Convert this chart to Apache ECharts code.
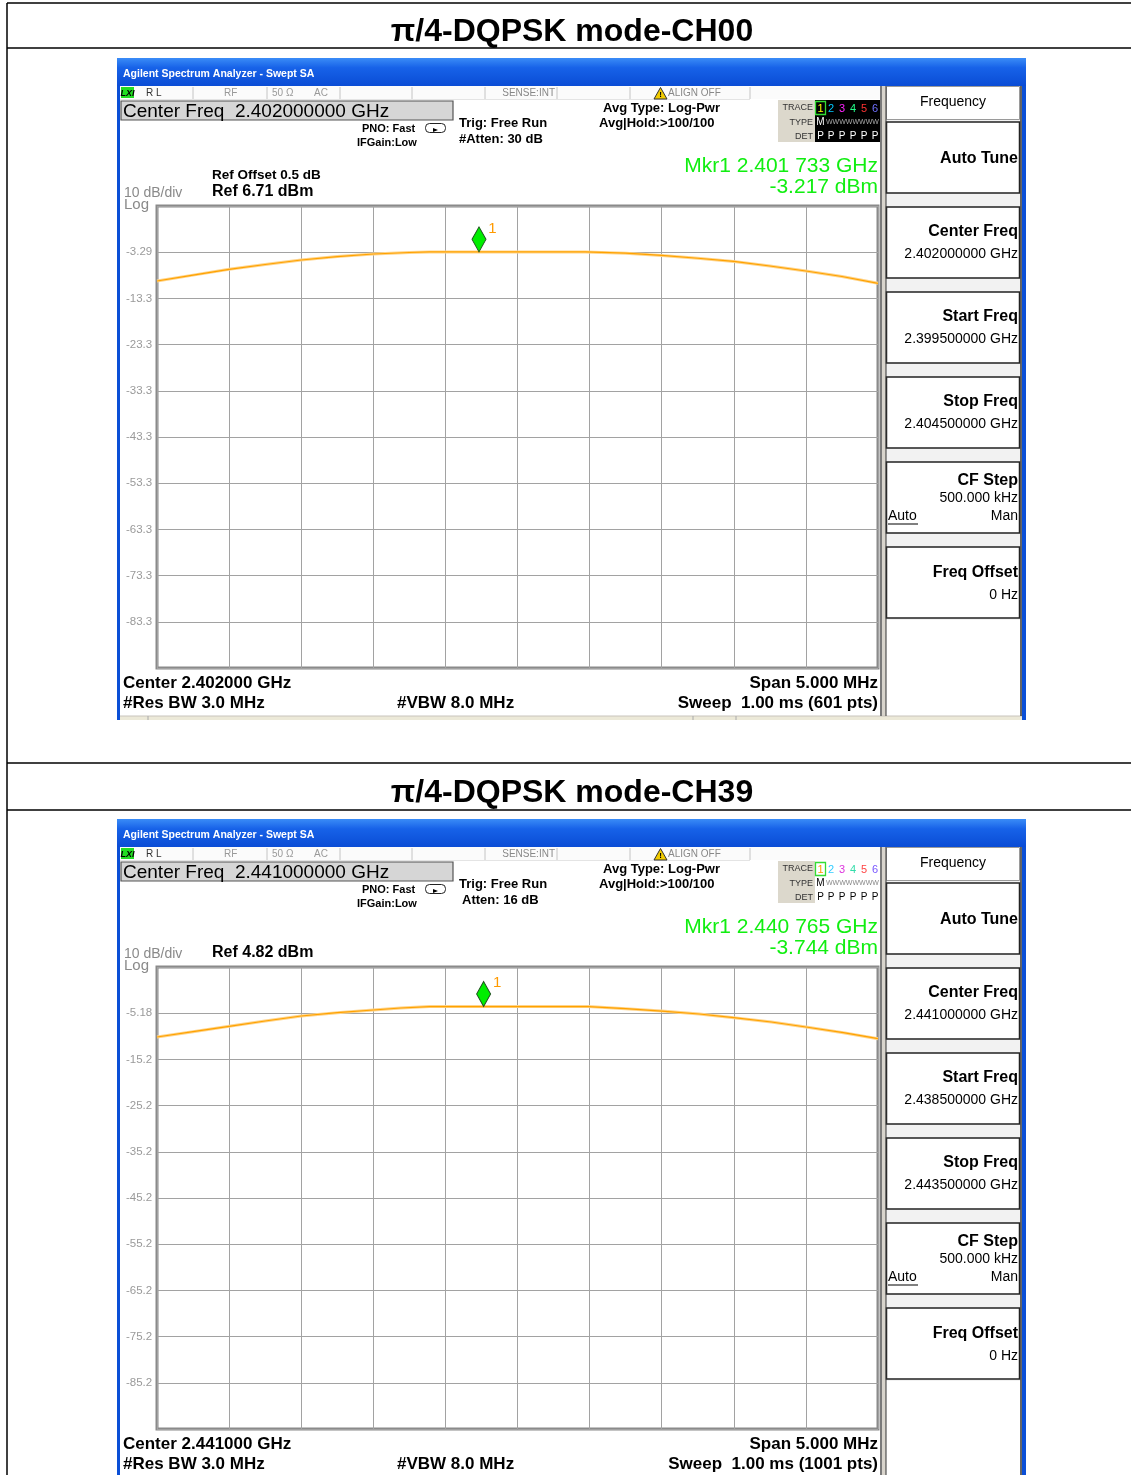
<!DOCTYPE html>
<html><head><meta charset="utf-8">
<script src="https://cdn.jsdelivr.net/npm/echarts@6/dist/echarts.min.js"></script>
<style>html,body{margin:0;padding:0;background:#fff;} #c{width:1131px;height:1475px;}</style>
</head><body><div id="c"></div>
<script>
// ---------------- data ----------------
const pageTitles = ['π/4-DQPSK mode-CH00', 'π/4-DQPSK mode-CH39'];
const centerFreqsGHz = [2.402, 2.441];
const refLevels = [6.71, 4.82];
const spanMHz = 5;
const ch00Freq = [2.39950, 2.39975, 2.40000, 2.40025, 2.40050, 2.40075, 2.40100, 2.40125, 2.40139, 2.40175, 2.40200, 2.40225, 2.40247, 2.40275, 2.40300, 2.40325, 2.40350, 2.40375, 2.40400, 2.40425, 2.40450];
const ch00Level = [-9.52, -8.25, -6.99, -5.95, -4.98, -4.24, -3.68, -3.35, -3.22, -3.22, -3.22, -3.22, -3.22, -3.51, -3.99, -4.60, -5.29, -6.28, -7.36, -8.55, -10.02];
const ch39Freq = [2.43850, 2.43875, 2.43900, 2.43925, 2.43950, 2.43975, 2.44000, 2.44019, 2.44039, 2.44077, 2.44110, 2.44149, 2.44150, 2.44175, 2.44200, 2.44226, 2.44250, 2.44276, 2.44300, 2.44326, 2.44350];
const ch39Level = [-10.33, -9.18, -8.02, -6.87, -5.79, -5.07, -4.49, -4.05, -3.74, -3.74, -3.74, -3.74, -3.84, -4.20, -4.71, -5.35, -6.15, -7.08, -8.17, -9.40, -10.70];
const ch00YLabels = ['-3.29', '-13.3', '-23.3', '-33.3', '-43.3', '-53.3', '-63.3', '-73.3', '-83.3'];
const ch39YLabels = ['-5.18', '-15.2', '-25.2', '-35.2', '-45.2', '-55.2', '-65.2', '-75.2', '-85.2'];
const markerFreqs = [2.401733, 2.440765];
const markerLevels = [-3.217, -3.744];
const markerTexts = [['Mkr1 2.401 733 GHz', '-3.217 dBm'], ['Mkr1 2.440 765 GHz', '-3.744 dBm']];
const centerTexts = ['Center Freq  2.402000000 GHz', 'Center Freq  2.441000000 GHz'];
const attenTexts = ['#Atten: 30 dB', 'Atten: 16 dB'];
const refTexts = ['Ref 6.71 dBm', 'Ref 4.82 dBm'];
const refOffsetTexts = ['Ref Offset 0.5 dB', ''];
const bottomCenter = ['Center 2.402000 GHz', 'Center 2.441000 GHz'];
const sweepTexts = ['Sweep  1.00 ms (601 pts)', 'Sweep  1.00 ms (1001 pts)'];
const softCenter = ['2.402000000 GHz', '2.441000000 GHz'];
const softStart = ['2.399500000 GHz', '2.438500000 GHz'];
const softStop = ['2.404500000 GHz', '2.443500000 GHz'];

// ---------------- helpers ----------------
const FONT = '"Liberation Sans", Arial, sans-serif';
function fnt(size, weight) { return (weight || 'normal') + ' ' + size + 'px ' + FONT; }
function T(x, y, text, font, fill, align) {
  return { type: 'text', x: x, y: y + 1.5, z: 100, silent: true,
    style: { text: text, font: font, fill: fill || '#000', align: align || 'left', verticalAlign: 'middle' } };
}
function R(x, y, w, h, fill, stroke, lw, r, z) {
  return { type: 'rect', z: (z === undefined ? -5 : z), silent: true,
    shape: { x: x, y: y, width: w, height: h, r: r || 0 },
    style: { fill: fill || 'none', stroke: stroke || 'none', lineWidth: lw || 0 } };
}
function Ln(x1, y1, x2, y2, stroke, lw, z) {
  return { type: 'line', z: (z === undefined ? -4 : z), silent: true,
    shape: { x1: x1, y1: y1, x2: x2, y2: y2 }, style: { stroke: stroke || '#000', lineWidth: lw || 1 } };
}
function Poly(pts, fill, stroke, z) {
  return { type: 'polygon', z: (z === undefined ? 50 : z), silent: true,
    shape: { points: pts }, style: { fill: fill, stroke: stroke || 'none', lineWidth: 1 } };
}

const G = [];
// page table
G.push(Ln(7, 3, 1131, 3, '#000', 1.5, 10));
G.push(Ln(7, 3, 7, 1475, '#000', 1.5, 10));
G.push(Ln(7, 48, 1131, 48, '#000', 1.5, 10));
G.push(Ln(7, 763, 1131, 763, '#000', 1.5, 10));
G.push(Ln(7, 810, 1131, 810, '#000', 1.5, 10));
G.push(T(572, 30.5, pageTitles[0], fnt(32, 'bold'), '#000', 'center'));
G.push(T(572, 791.5, pageTitles[1], fnt(32, 'bold'), '#000', 'center'));

function panel(i, oy) {
  const dark = i === 0;
  const Y = v => v + oy;
  const frameH = i === 0 ? 662 : 700;
  G.push(R(117, Y(58), 909, frameH, '#0b4fd6', null, 0, 0, -10));
  G.push(R(117, Y(58), 909, 28, { type: 'linear', x: 0, y: 0, x2: 0, y2: 1,
    colorStops: [{ offset: 0, color: '#3a8cf7' }, { offset: 0.35, color: '#1762e8' }, { offset: 1, color: '#0a4cd5' }] }, null, 0, 0, -9));
  G.push(T(123, Y(73), 'Agilent Spectrum Analyzer - Swept SA', fnt(10.5, 'bold'), '#fff'));
  G.push(R(120, Y(86), 902, 631, '#ffffff', null, 0, 0, -8));
  if (i === 0) {
    G.push(R(120, Y(716), 902, 4, '#ece9d8', null, 0, 0, -7));
    G.push(Ln(120, Y(716), 1022, Y(716), '#c8c4bc', 1));
    G.push(Ln(148, Y(716), 148, Y(720), '#aaa', 1));
    G.push(Ln(693, Y(716), 693, Y(720), '#aaa', 1));
    G.push(Ln(736, Y(716), 736, Y(720), '#aaa', 1));
  }
  // status row
  G.push(R(120, Y(86), 760, 13, '#fbfbfb', null, 0, 0, -7));
  [193, 267, 340, 412, 485, 557, 630, 750].forEach(x => G.push(Ln(x, Y(87), x, Y(99), '#c4c4c4', 1)));
  G.push(Ln(120, Y(99.5), 750, Y(99.5), '#e4e4e4', 1));
  G.push(R(121, Y(87), 13, 11, '#22dd22', null, 0, 0, -6));
  G.push(T(127.5, Y(92), 'LXI', 'italic bold 9px ' + FONT, '#000', 'center'));
  G.push(T(146, Y(91.5), 'R L', fnt(10), '#333'));
  G.push(T(224, Y(91.5), 'RF', fnt(10), '#999'));
  G.push(T(272, Y(91.5), '50 Ω', fnt(10), '#999'));
  G.push(T(314, Y(91.5), 'AC', fnt(10), '#999'));
  G.push(T(555, Y(91.5), 'SENSE:INT', fnt(10), '#888', 'right'));
  G.push(Poly([[654, Y(99)], [660.5, Y(87.5)], [667, Y(99)]], '#f2cc00', '#333'));
  G.push(T(660.5, Y(93.5), '!', fnt(8, 'bold'), '#000', 'center'));
  G.push(T(668, Y(91.5), 'ALIGN OFF', fnt(10), '#888'));
  // center freq box
  G.push(R(121, Y(101), 332, 19, '#d6d6d6', '#555', 1.2, 0, -6));
  G.push(T(123, Y(110), centerTexts[i], fnt(19), '#000'));
  G.push(T(362, Y(127), 'PNO: Fast', fnt(11, 'bold'), '#000'));
  G.push(R(425.5, Y(123.5), 20, 9, 'none', '#222', 1, 4, 50));
  G.push(Poly([[433, Y(128)], [438, Y(130)], [433, Y(132)]], '#000'));
  G.push(T(357, Y(141), 'IFGain:Low', fnt(11, 'bold'), '#000'));
  G.push(T(459, Y(122), 'Trig: Free Run', fnt(13, 'bold'), '#000'));
  G.push(T(i === 0 ? 459 : 462, Y(138), attenTexts[i], fnt(13, 'bold'), '#000'));
  G.push(T(603, Y(107), 'Avg Type: Log-Pwr', fnt(13, 'bold'), '#000'));
  G.push(T(599, Y(122), 'Avg|Hold:>100/100', fnt(13, 'bold'), '#000'));
  // trace box
  G.push(R(778, Y(100), 37, 42, '#dcd8cc', null, 0, 0, -6));
  G.push(T(813, Y(106), 'TRACE', fnt(9), '#333', 'right'));
  G.push(T(813, Y(121), 'TYPE', fnt(9), '#333', 'right'));
  G.push(T(813, Y(135), 'DET', fnt(9), '#333', 'right'));
  G.push(R(815, Y(100), 65, 42, dark ? '#000' : '#fff', null, 0, 0, -6));
  const cols = dark ? ['#ffff00', '#00c8ff', '#ff22ff', '#22ff88', '#ff3333', '#7070ff']
                    : ['#ff9900', '#33ccff', '#dd33dd', '#33ddaa', '#ff4444', '#7755ff'];
  const xs = [820.5, 831, 842, 853, 864, 875];
  G.push(R(815.5, Y(101.5), 10, 13, 'none', '#33dd33', 1.3, 0, 60));
  xs.forEach((x, k) => G.push(T(x, Y(107), String(k + 1), fnt(11), cols[k], 'center')));
  G.push(T(820.5, Y(121), 'M', fnt(10), dark ? '#fff' : '#000', 'center'));
  G.push(T(826, Y(121), 'WWWWWWWW', fnt(7), dark ? '#aaa' : '#888'));
  xs.forEach(x => G.push(T(x, Y(135), 'P', fnt(10), dark ? '#fff' : '#000', 'center')));
  // marker readout
  G.push(T(878, Y(165), markerTexts[i][0], fnt(21), '#11ee11', 'right'));
  G.push(T(878, Y(186), markerTexts[i][1], fnt(21), '#11ee11', 'right'));
  if (refOffsetTexts[i]) G.push(T(212, Y(173.5), refOffsetTexts[i], fnt(13.5, 'bold'), '#000'));
  G.push(T(212, Y(190.5), refTexts[i], fnt(16, 'bold'), '#000'));
  G.push(T(124, Y(191.5), '10 dB/div', fnt(14), '#8a8a8a'));
  G.push(T(124, Y(203.5), 'Log', fnt(15), '#8a8a8a'));
  // bottom annotations
  G.push(T(123, Y(681.5), bottomCenter[i], fnt(17, 'bold'), '#000'));
  G.push(T(123, Y(701.5), '#Res BW 3.0 MHz', fnt(17, 'bold'), '#000'));
  G.push(T(397, Y(701.5), '#VBW 8.0 MHz', fnt(17, 'bold'), '#000'));
  G.push(T(878, Y(681.5), 'Span 5.000 MHz', fnt(17, 'bold'), '#000', 'right'));
  G.push(T(878, Y(701.5), sweepTexts[i], fnt(17, 'bold'), '#000', 'right'));
  // separator & softkey panel
  G.push(Ln(881, Y(86), 881, Y(716), '#7a7a7a', 2));
  G.push(R(882, Y(86), 4, 630, '#d8d4cc', null, 0, 0, -6));
  G.push(R(886, Y(86), 135, 630, '#f2f2f2', null, 0, 0, -7));
  G.push(R(886.5, Y(86.5), 133, 33, '#fff', '#9a9a9a', 1, 0, -6));
  G.push(T(953, Y(101), 'Frequency', fnt(14), '#000', 'center'));
  [122, 207, 292, 377, 462, 547].forEach(t => G.push(R(886.5, Y(t), 133, 71, '#fff', '#222', 1.5, 0, -6)));
  G.push(R(886, Y(620), 135, 96, '#fff', null, 0, 0, -6));
  G.push(Ln(1021, Y(86), 1021, Y(716), '#333', 1.5));
  G.push(Ln(886, Y(86), 886, Y(716), '#333', 1));
  G.push(T(1018, Y(157), 'Auto Tune', fnt(16, 'bold'), '#000', 'right'));
  G.push(T(1018, Y(230), 'Center Freq', fnt(16, 'bold'), '#000', 'right'));
  G.push(T(1018, Y(253), softCenter[i], fnt(14), '#000', 'right'));
  G.push(T(1018, Y(315), 'Start Freq', fnt(16, 'bold'), '#000', 'right'));
  G.push(T(1018, Y(338), softStart[i], fnt(14), '#000', 'right'));
  G.push(T(1018, Y(400), 'Stop Freq', fnt(16, 'bold'), '#000', 'right'));
  G.push(T(1018, Y(423), softStop[i], fnt(14), '#000', 'right'));
  G.push(T(1018, Y(479), 'CF Step', fnt(16, 'bold'), '#000', 'right'));
  G.push(T(1018, Y(497), '500.000 kHz', fnt(14), '#000', 'right'));
  G.push(T(888, Y(515), 'Auto', fnt(14), '#000'));
  G.push(Ln(888, Y(524), 918, Y(524), '#000', 1, 60));
  G.push(T(1018, Y(515), 'Man', fnt(14), '#000', 'right'));
  G.push(T(1018, Y(571), 'Freq Offset', fnt(16, 'bold'), '#000', 'right'));
  G.push(T(1018, Y(594), '0 Hz', fnt(14), '#000', 'right'));
}
panel(0, 0);
panel(1, 761);

// ---------------- plot ----------------
const traces = [[ch00Freq, ch00Level], [ch39Freq, ch39Level]];
const yLabels = [ch00YLabels, ch39YLabels];
const gridTops = [206, 967];
function toX(f, i) { return Math.round((f - centerFreqsGHz[i]) * 1e6) / 1000; }
const grids = [], xAxes = [], yAxes = [], series = [];
[0, 1].forEach(i => {
  grids.push({ left: 157, top: gridTops[i], width: 721, height: 462, show: true,
    backgroundColor: '#fff', borderColor: '#8a8a8a', borderWidth: 3 });
  xAxes.push({ gridIndex: i, type: 'value', min: -spanMHz / 2, max: spanMHz / 2, interval: 0.5,
    axisLine: { show: false }, axisTick: { show: false }, axisLabel: { show: false },
    splitLine: { show: true, lineStyle: { color: '#a2a2a2', width: 1 } } });
  yAxes.push({ gridIndex: i, type: 'value', min: -100, max: 0, interval: 10,
    axisLine: { show: false }, axisTick: { show: false },
    axisLabel: { show: true, align: 'left', margin: 31, color: '#9a9a9a', fontSize: 11.5, fontFamily: FONT,
      formatter: v => { const k = Math.round(-v / 10); return (k >= 1 && k <= 9) ? yLabels[i][k - 1] : ''; } },
    splitLine: { show: true, lineStyle: { color: '#a2a2a2', width: 1 } } });
  const data = traces[i][0].map((f, k) => [toX(f, i), traces[i][1][k] - refLevels[i]]);
  series.push({ type: 'line', xAxisIndex: i, yAxisIndex: i, data: data, symbol: 'none', silent: true,
    lineStyle: { color: '#ffd48a', width: 3 }, z: 3 });
  series.push({ type: 'line', xAxisIndex: i, yAxisIndex: i, data: data, symbol: 'none', silent: true,
    lineStyle: { color: '#ffa200', width: 1.2 }, z: 4 });
  series.push({ type: 'scatter', xAxisIndex: i, yAxisIndex: i, silent: true, z: 6,
    data: [[toX(markerFreqs[i], i), markerLevels[i] - refLevels[i]]],
    symbol: 'path://M5,0 L10,12 L5,24 L0,12 Z', symbolSize: [14, 25], symbolOffset: [0, '-50%'],
    itemStyle: { color: '#00ee00', borderColor: '#1d4d1d', borderWidth: 1, opacity: 1 },
    label: { show: true, formatter: '1', position: 'right', offset: [-3, -11], color: '#ff9a00', fontSize: 15, fontFamily: FONT } });
});

const chart = echarts.init(document.getElementById('c'), null, { renderer: 'canvas' });
chart.setOption({
  animation: false,
  backgroundColor: '#fff',
  grid: grids, xAxis: xAxes, yAxis: yAxes, series: series,
  graphic: { elements: G }
});
</script>
</body></html>
